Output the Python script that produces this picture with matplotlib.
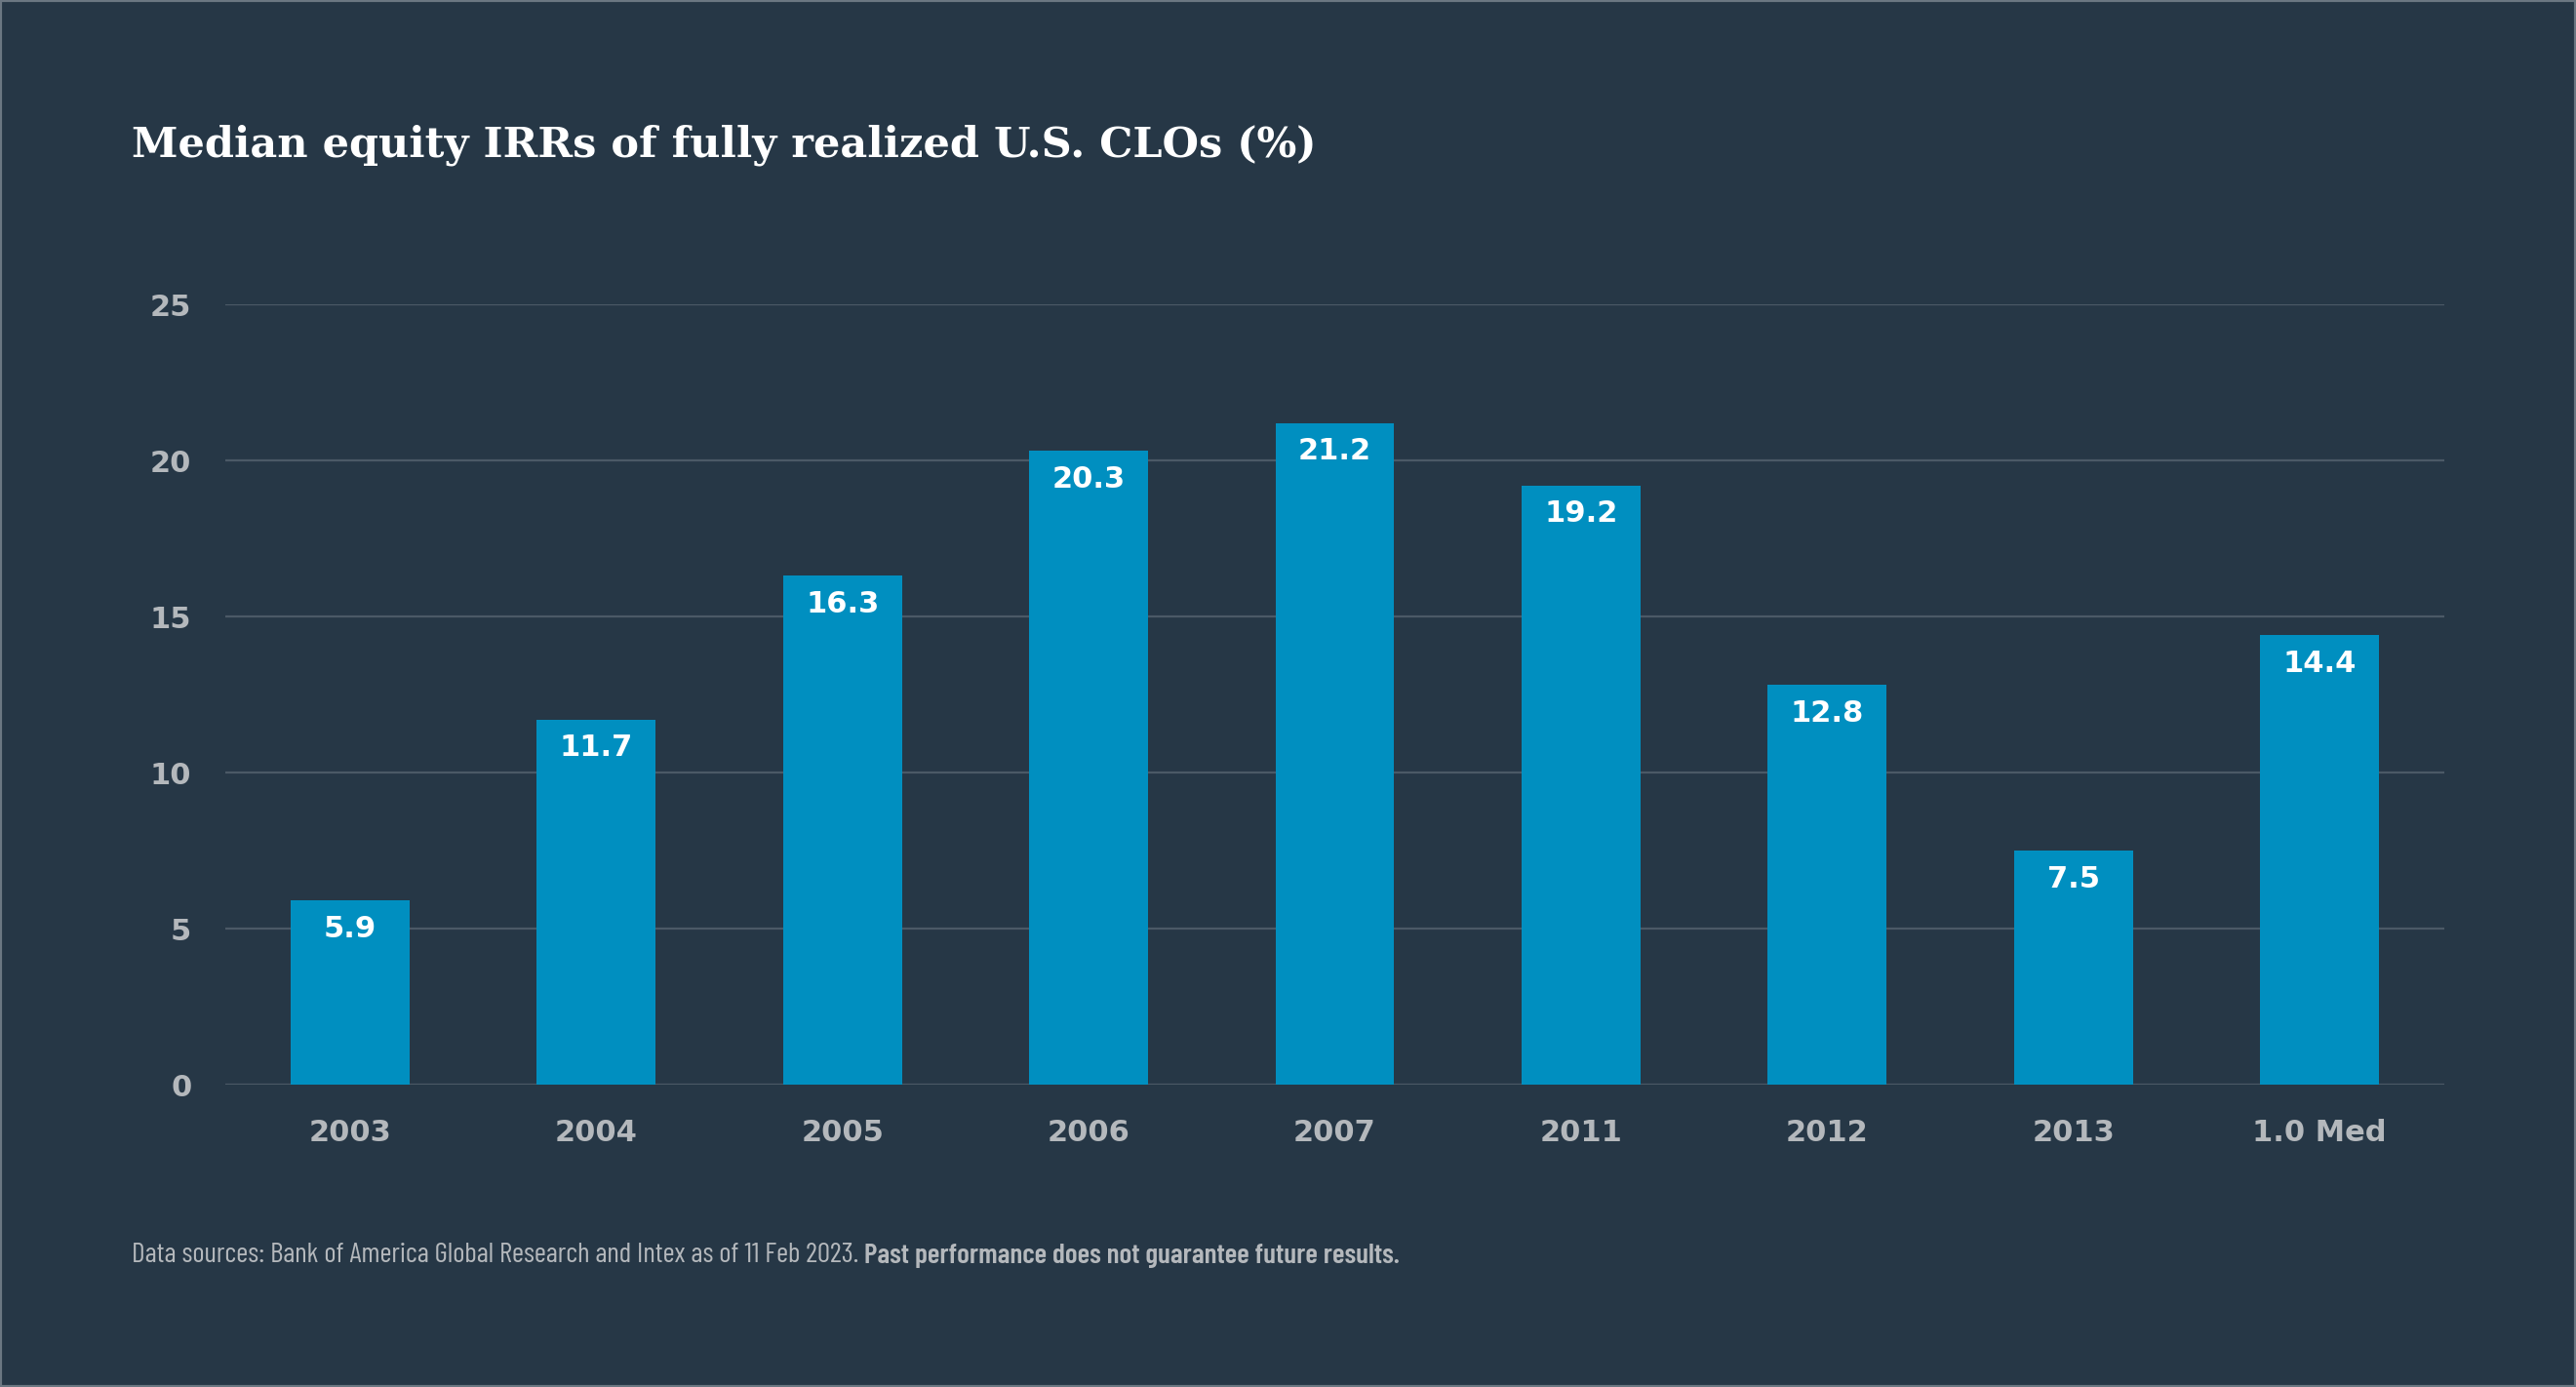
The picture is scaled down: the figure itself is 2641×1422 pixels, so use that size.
import matplotlib
matplotlib.use('Agg')
import matplotlib.pyplot as plt

# datos
categorias = ['2003', '2004', '2005', '2006', '2007', '2011', '2012', '2013', '1.0 Med']
valores = [5.9, 11.7, 16.3, 20.3, 21.2, 19.2, 12.8, 7.5, 14.4]
ticks_y = [0, 5, 10, 15, 20, 25]

fondo = '#263746'
azul = '#008fc0'
gris = '#b4b8bc'
rejilla = '#4b5966'
narrow = ['Barlow Condensed', 'Roboto Condensed', 'DejaVu Sans']

fig = plt.figure(figsize=(26.41, 14.22), dpi=100, facecolor=fondo)
ax = fig.add_axes([231 / 2641, 1 - 1112 / 1422, (2506 - 231) / 2641, (1112 - 312) / 1422])
ax.set_facecolor(fondo)

x = list(range(len(categorias)))
ax.bar(x, valores, width=0.483, color=azul, zorder=3)

for xi, v in zip(x, valores):
    ax.annotate(f'{v}', (xi, v), xytext=(0, -29), textcoords='offset pixels',
                ha='center', va='center', color='white', fontsize=22,
                fontweight='bold', family='DejaVu Sans', zorder=4)

ax.set_xlim(-0.507, len(categorias) - 1 + 0.507)
ax.set_ylim(0, 25)
ax.set_yticks(ticks_y)
ax.set_xticks(x)
ax.set_xticklabels(categorias)
ax.grid(axis='y', color=rejilla, linewidth=1.6, zorder=0)
ax.tick_params(axis='both', length=0, colors=gris, labelsize=22)
ax.tick_params(axis='x', pad=25)
ax.tick_params(axis='y', pad=25)
for lab in ax.get_xticklabels() + ax.get_yticklabels():
    lab.set_fontweight('bold')
for s in ax.spines.values():
    s.set_visible(False)

fig.text(135 / 2641, 1 - 149 / 1422, 'Median equity IRRs of fully realized U.S. CLOs (%)',
         color='white', fontsize=31, fontweight='bold', family='DejaVu Serif',
         ha='left', va='center')

# nota al pie: parte normal + parte en negrita, ajustada al ancho del original
t1 = fig.text(135 / 2641, 1 - 1287 / 1422,
              'Data sources: Bank of America Global Research and Intex as of 11 Feb 2023. ',
              color=gris, fontsize=24, family=narrow, ha='left', va='center')
t2 = fig.text(0, 1 - 1287 / 1422, 'Past performance does not guarantee future results.',
              color=gris, fontsize=24, family=narrow, fontweight='semibold', ha='left', va='center')
fig.canvas.draw()
r = fig.canvas.get_renderer()
ancho = t1.get_window_extent(r).width + t2.get_window_extent(r).width
tam = 24 * (1433 - 135) / ancho
t1.set_fontsize(tam)
t2.set_fontsize(tam)
fig.canvas.draw()
t2.set_x(t1.get_window_extent(r).x1 / 2641)

# borde fino
fig.patches.append(plt.Rectangle((0, 0), 1, 1, transform=fig.transFigure, fill=False,
                                 edgecolor='#6b7782', linewidth=3))

fig.savefig('out.png', dpi=100, facecolor=fondo)
